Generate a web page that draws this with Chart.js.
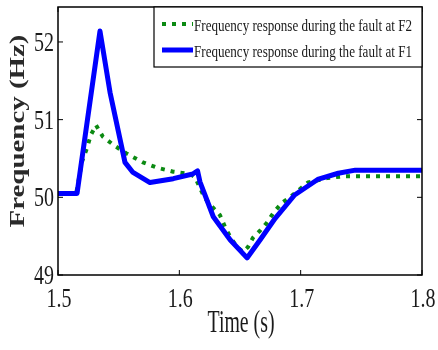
<!DOCTYPE html>
<html>
<head>
<meta charset="utf-8">
<script src="https://cdn.jsdelivr.net/npm/chart.js@4"></script>
<style>
  html, body { margin: 0; padding: 0; background: #fff; }
  #wrap { width: 438px; height: 350px; }
</style>
</head>
<body>
<div id="wrap"><canvas id="myChart" width="438" height="350"></canvas></div>
<script>
// data
var timeF1 = [1.5, 1.5157, 1.5346, 1.5429, 1.5552, 1.5618, 1.5758, 1.595, 1.611, 1.615, 1.617, 1.628, 1.642, 1.6558,
  1.6665, 1.679, 1.695, 1.714, 1.731, 1.745, 1.8];
var freqF1 = [50.05, 50.05, 52.14, 51.35, 50.45, 50.32, 50.19, 50.24, 50.3, 50.34, 50.2, 49.75, 49.45, 49.22,
  49.45, 49.73, 50.03, 50.23, 50.31, 50.35, 50.35];
var timeF2 = [1.5, 1.515, 1.5198, 1.524, 1.527, 1.5313, 1.537, 1.547, 1.557, 1.57, 1.582, 1.595, 1.609, 1.613,
  1.617, 1.621, 1.627, 1.6335, 1.6376, 1.642, 1.6475, 1.6525, 1.6566, 1.6607, 1.6665, 1.672, 1.678, 1.6846,
  1.691, 1.706, 1.7225, 1.735, 1.8];
var freqF2 = [50.05, 50.05, 50.46, 50.64, 50.8, 50.93, 50.78, 50.66, 50.56, 50.45, 50.38, 50.33, 50.3, 50.26,
  50.12, 49.99, 49.88, 49.77, 49.62, 49.49, 49.36, 49.3, 49.36, 49.48, 49.57, 49.67, 49.81, 49.93,
  50.0, 50.19, 50.25, 50.27, 50.27];
var xTicks = [1.5, 1.6, 1.7, 1.8];
var yTicks = [49, 50, 51, 52];
var labelF2 = "Frequency response during the fault at F2";
var labelF1 = "Frequency response during the fault at F1";

function pts(xs, ys) {
  return xs.map(function (x, i) { return { x: x, y: ys[i] }; });
}

// squeeze text sideways like the source picture
function txt(ctx, s, x, y, font, sx, align, base) {
  ctx.save();
  ctx.translate(x, y);
  ctx.scale(sx, 1);
  ctx.font = font;
  ctx.textAlign = align || "center";
  ctx.textBaseline = base || "middle";
  ctx.fillText(s, 0, 0);
  ctx.restore();
}
function fitScale(ctx, s, font, w) {
  ctx.save();
  ctx.font = font;
  var m = ctx.measureText(s).width;
  ctx.restore();
  return w / m;
}

var frame = {
  id: "frame",
  afterDraw: function (chart) {
    var ctx = chart.ctx, a = chart.chartArea;
    var xs = chart.scales.x, ys = chart.scales.y;
    ctx.save();
    ctx.strokeStyle = "#000";
    ctx.lineWidth = 1.5;
    ctx.strokeRect(a.left, a.top, a.right - a.left, a.bottom - a.top);
    ctx.lineWidth = 1;
    ctx.beginPath();
    xs.ticks.forEach(function (t) {
      var px = xs.getPixelForValue(t.value);
      ctx.moveTo(px, a.bottom); ctx.lineTo(px, a.bottom - 5);
      ctx.moveTo(px, a.top); ctx.lineTo(px, a.top + 5);
    });
    ys.ticks.forEach(function (t) {
      var py = ys.getPixelForValue(t.value);
      ctx.moveTo(a.left, py); ctx.lineTo(a.left + 5, py);
      ctx.moveTo(a.right, py); ctx.lineTo(a.right - 5, py);
    });
    ctx.stroke();

    ctx.fillStyle = "#1a1a1a";
    var tf = "27px 'Liberation Serif'";
    xs.ticks.forEach(function (t) {
      txt(ctx, String(t.value), xs.getPixelForValue(t.value) + 1, a.bottom + 25, tf, 0.74, "center");
    });
    ys.ticks.forEach(function (t) {
      txt(ctx, String(t.value), a.left - 4, ys.getPixelForValue(t.value) + 2, tf, 0.74, "right");
    });

    // axis titles
    var xf = "31px 'Liberation Serif'";
    txt(ctx, "Time (s)", 241, 324, xf, fitScale(ctx, "Time (s)", xf, 67), "center");
    var yf = "bold 22px 'Liberation Serif'";
    ctx.save();
    ctx.translate(18, 131);
    ctx.rotate(-Math.PI / 2);
    ctx.scale(fitScale(ctx, "Frequency (Hz)", yf, 193), 1);
    ctx.font = yf;
    ctx.fillStyle = "#2a2a2a";
    ctx.textAlign = "center";
    ctx.textBaseline = "middle";
    ctx.fillText("Frequency (Hz)", 0, 0);
    ctx.restore();

    // legend box
    var lx = 154, ly = a.top, lw = a.right - 154, lh = 60;
    ctx.fillStyle = "#fff";
    ctx.fillRect(lx, ly, lw, lh);
    ctx.strokeStyle = "#000";
    ctx.lineWidth = 1.2;
    ctx.strokeRect(lx, ly, lw, lh);
    var rows = [chart.data.datasets[0], chart.data.datasets[1]];
    var lf = "17px 'Liberation Serif'";
    rows.forEach(function (ds, i) {
      var yy = ly + 17 + i * 26;
      ctx.save();
      ctx.strokeStyle = ds.borderColor;
      ctx.lineWidth = ds.borderWidth;
      ctx.setLineDash(ds.borderDash || []);
      ctx.beginPath();
      ctx.moveTo(162, yy); ctx.lineTo(193, yy);
      ctx.stroke();
      ctx.restore();
      ctx.fillStyle = "#1a1a1a";
      txt(ctx, ds.label, 194, yy + 7, lf, fitScale(ctx, ds.label, lf, 218), "left", "alphabetic");
    });
    ctx.restore();
  }
};

var ctx = document.getElementById("myChart").getContext("2d");
var myChart = new Chart(ctx, {
  type: "line",
  data: {
    datasets: [
      { label: labelF2, data: pts(timeF2, freqF2), borderColor: "#0b8a12", borderWidth: 4,
        borderDash: [4, 6], borderJoinStyle: "round", pointRadius: 0, fill: false, order: 1 },
      { label: labelF1, data: pts(timeF1, freqF1), borderColor: "#0000ff", borderWidth: 5,
        borderJoinStyle: "round", pointRadius: 0, fill: false, order: 0 }
    ]
  },
  plugins: [frame],
  options: {
    responsive: false,
    animation: false,
    layout: { padding: { top: 7, right: 16, left: 0, bottom: 0 } },
    plugins: { legend: { display: false }, tooltip: { enabled: false } },
    scales: {
      x: {
        type: "linear", min: 1.5, max: 1.8,
        grid: { display: false }, border: { display: false },
        ticks: { display: false },
        afterBuildTicks: function (s) { s.ticks = xTicks.map(function (v) { return { value: v }; }); },
        afterFit: function (s) { s.height = 75; }
      },
      y: {
        min: 49, max: 52.45,
        grid: { display: false }, border: { display: false },
        ticks: { display: false },
        afterBuildTicks: function (s) { s.ticks = yTicks.map(function (v) { return { value: v }; }); },
        afterFit: function (s) { s.width = 58; }
      }
    }
  }
});
</script>
</body>
</html>
